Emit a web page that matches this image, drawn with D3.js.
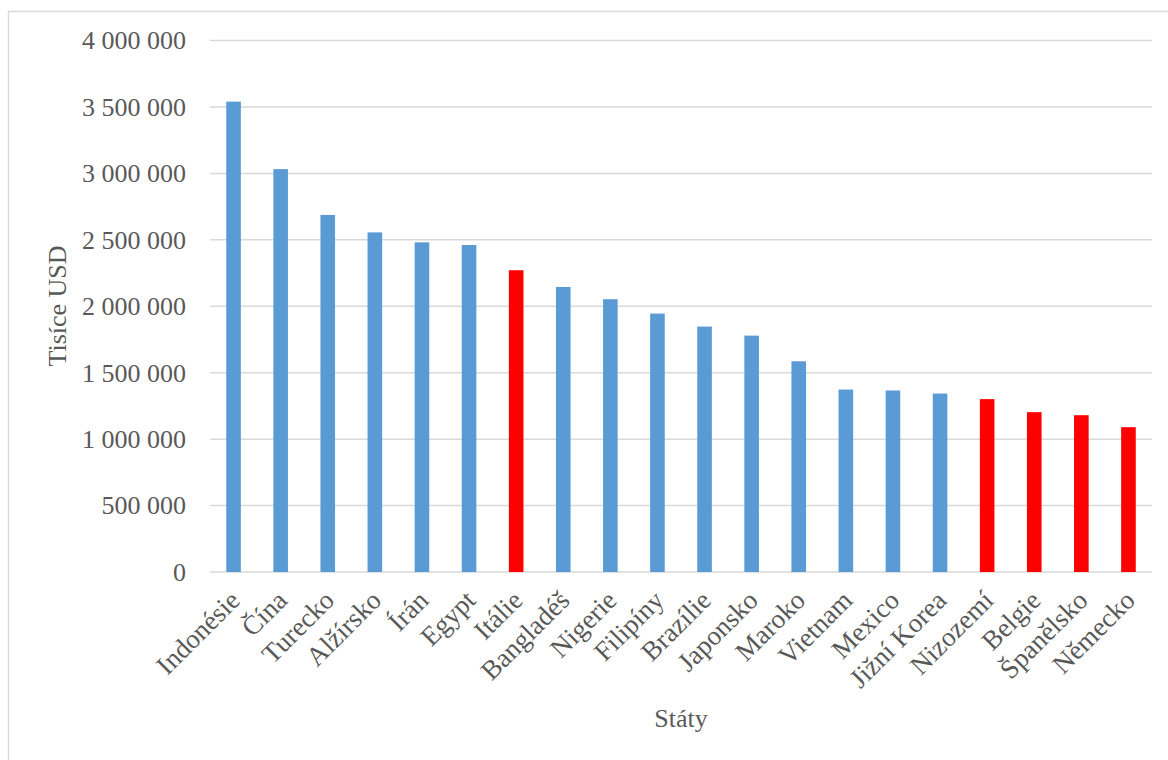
<!DOCTYPE html>
<html><head><meta charset="utf-8">
<script src="https://cdn.jsdelivr.net/npm/d3@7"></script>
<style>html,body{margin:0;padding:0;background:#fff;}</style>
</head><body>
<svg id="c" width="1168" height="760"></svg>
<script>
const categories = ["Indonésie","Čína","Turecko","Alžírsko","Írán","Egypt","Itálie","Bangladéš","Nigerie","Filipíny","Brazílie","Japonsko","Maroko","Vietnam","Mexico","Jižní Korea","Nizozemí","Belgie","Španělsko","Německo"];
const values = [3540000,3032000,2687000,2556000,2481000,2461000,2271000,2145000,2053000,1945000,1847000,1779000,1586000,1373000,1366000,1343000,1301000,1203000,1180000,1090000];
const highlighted = ["Itálie","Nizozemí","Belgie","Španělsko","Německo"];
const yTicks = [0,500000,1000000,1500000,2000000,2500000,3000000,3500000,4000000];
const yTitle = "Tisíce USD";
const xTitle = "Státy";

const svg = d3.select("#c");
const font = "'Liberation Serif','Times New Roman',serif";
const textColor = "#595959";

svg.append("rect").attr("x",8.5).attr("y",11.5).attr("width",1200).attr("height",800)
  .attr("fill","#fff").attr("stroke","#d9d9d9").attr("stroke-width",1.5);

const x = d3.scaleBand().domain(categories).range([210,1152]).paddingInner(0.69).paddingOuter(0.345);
const y = d3.scaleLinear().domain([0,4000000]).range([572,40.5]);

const fmt = v => d3.format(",")(v).replace(/,/g," ");

const yAxis = d3.axisLeft(y).tickValues(yTicks).tickSize(0).tickPadding(24).tickFormat(fmt);
const gy = svg.append("g").attr("transform","translate(210,0)").call(yAxis);
gy.select(".domain").remove();
gy.selectAll("text").attr("font-family",font).attr("font-size",26).attr("fill",textColor);

svg.append("g").selectAll("line").data(yTicks).join("line")
  .attr("x1",210).attr("x2",1152).attr("y1",d=>y(d)).attr("y2",d=>y(d))
  .attr("stroke","#d9d9d9").attr("stroke-width",1.5);

svg.append("g").selectAll("rect").data(categories).join("rect")
  .attr("x",d=>x(d)).attr("width",x.bandwidth())
  .attr("y",(d,i)=>y(values[i])).attr("height",(d,i)=>y(0)-y(values[i]))
  .attr("fill",d=>highlighted.includes(d)?"#ff0000":"#5b9bd5");

const xAxis = d3.axisBottom(x).tickSize(0).tickPadding(0);
const gx = svg.append("g").attr("transform","translate(0,572)").call(xAxis);
gx.select(".domain").remove();
gx.selectAll("text")
  .attr("font-family",font).attr("font-size",27).attr("fill",textColor)
  .attr("text-anchor","end").attr("dy",0)
  .attr("transform","translate(8,30) rotate(-45)");

svg.append("text").attr("transform","translate(66,306) rotate(-90)")
  .attr("text-anchor","middle").attr("font-family",font).attr("font-size",26).attr("fill",textColor)
  .text(yTitle);
svg.append("text").attr("x",681).attr("y",727).attr("text-anchor","middle")
  .attr("font-family",font).attr("font-size",26).attr("fill",textColor).text(xTitle);
</script>
</body></html>
